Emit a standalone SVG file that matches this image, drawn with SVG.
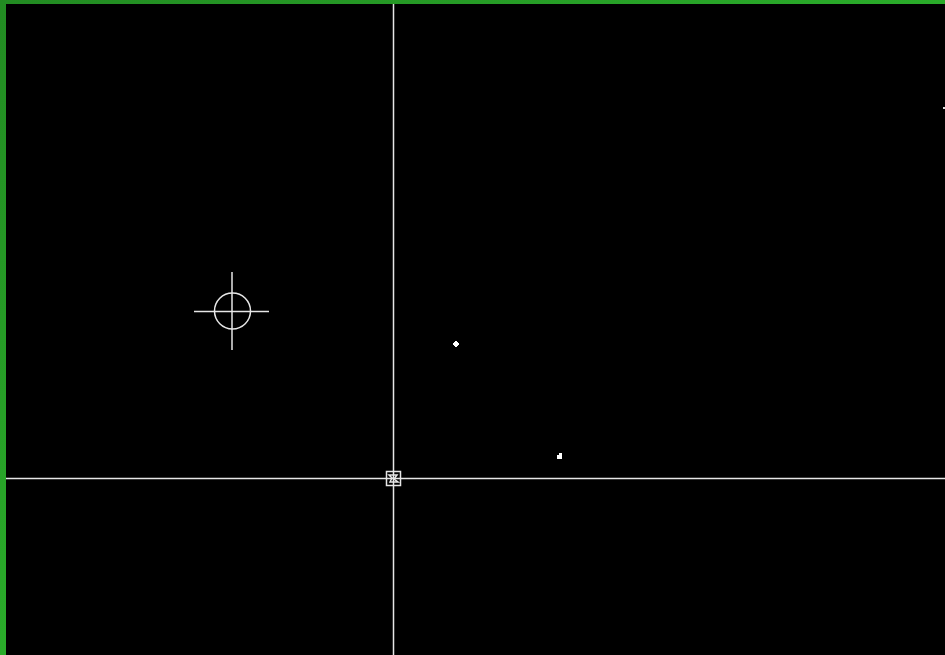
<svg xmlns="http://www.w3.org/2000/svg" width="945" height="655" viewBox="0 0 945 655">
<defs>
<linearGradient id="g" x1="0" y1="0" x2="1" y2="1">
<stop offset="0" stop-color="#228B22"/>
<stop offset="1" stop-color="#32CD32"/>
</linearGradient>
<style>.w{stroke:#e6e6e6;stroke-width:1.5;fill:none}</style>
</defs>
<rect width="945" height="655" fill="url(#g)"/>
<rect x="6" y="4" width="939" height="651" fill="#000"/>
<g id="axes">
<line class="w" x1="393.5" y1="4" x2="393.5" y2="655"/>
<line class="w" x1="6" y1="478.5" x2="945" y2="478.5"/>
</g>
<g id="origin">
<rect class="w" x="386.5" y="471.5" width="14" height="14" fill="#000"/>
<path class="w" d="M389,475 L397,475 L394,479 L398,482 L390,482 L392,478 Z" stroke-width="1.2"/>
</g>
<g id="cursor">
<circle class="w" cx="232.5" cy="311" r="18" stroke-width="1.8"/>
<line class="w" x1="232" y1="272" x2="232" y2="350"/>
<line class="w" x1="194" y1="311.5" x2="269" y2="311.5"/>
</g>
<g id="points" fill="#fff">
<rect x="454" y="342" width="4" height="4"/>
<rect x="455" y="341" width="2" height="6"/>
<rect x="453" y="343" width="6" height="2"/>
<rect x="557" y="455" width="5" height="4"/>
<rect x="559" y="453" width="3" height="3"/>
<rect x="943" y="107" width="2" height="2" fill="#ddd"/>
</g>
</svg>
